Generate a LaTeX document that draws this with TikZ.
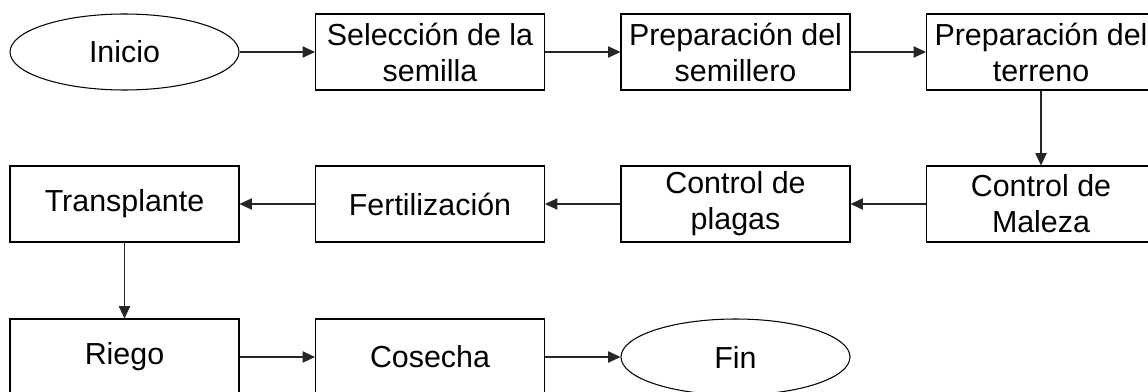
\documentclass[tikz,border=0pt]{standalone}
\usepackage{fontspec}
\setmainfont{Liberation Sans}
\usepackage{tikz}
\usetikzlibrary{shapes,arrows.meta}
\tikzset{
  paso/.style={draw, line width=0.6pt, rectangle, minimum width=4.58cm, minimum height=1.52cm, inner sep=0pt, align=center, font=\fontsize{17.3}{20.5}\selectfont},
  extremo/.style={draw, line width=0.6pt, ellipse, minimum width=4.58cm, minimum height=1.52cm, inner sep=0pt, font=\fontsize{17.3}{20.5}\selectfont},
  flecha/.style={-{Triangle[length=7pt,width=6.4pt]}, line width=0.6pt, black!85}
}
\begin{document}
\begin{tikzpicture}
\useasboundingbox (0,0) rectangle (22.96,7.82);
 \node[extremo] (inicio) at (2.49,6.78) {Inicio};
 \node[paso] (seleccion) at (8.6,6.78) {Selección de la\\semilla};
 \node[paso] (semillero) at (14.71,6.78) {Preparación del\\semillero};
 \node[paso] (terreno) at (20.82,6.78) {Preparación del\\terreno};
 \node[paso] (maleza) at (20.82,3.74) {Control de\\Maleza};
 \node[paso] (plagas) at (14.71,3.74) {Control de\\plagas};
 \node[paso] (fertilizacion) at (8.6,3.74) {Fertilización};
 \node[paso] (transplante) at (2.49,3.74) {Transplante};
 \node[paso] (riego) at (2.49,0.68) {Riego};
 \node[paso] (cosecha) at (8.6,0.68) {Cosecha};
 \node[extremo] (fin) at (14.71,0.68) {Fin};
\draw [flecha](inicio) -- (seleccion);
\draw [flecha](seleccion) -- (semillero);
\draw [flecha](semillero) -- (terreno);
\draw [flecha](terreno) -- (maleza);
\draw [flecha](maleza) -- (plagas);
\draw [flecha](plagas) -- (fertilizacion);
\draw [flecha](fertilizacion) -- (transplante);
\draw [flecha](transplante) -- (riego);
\draw [flecha](riego) -- (cosecha);
\draw [flecha](cosecha) -- (fin);
\end{tikzpicture}
\end{document}
